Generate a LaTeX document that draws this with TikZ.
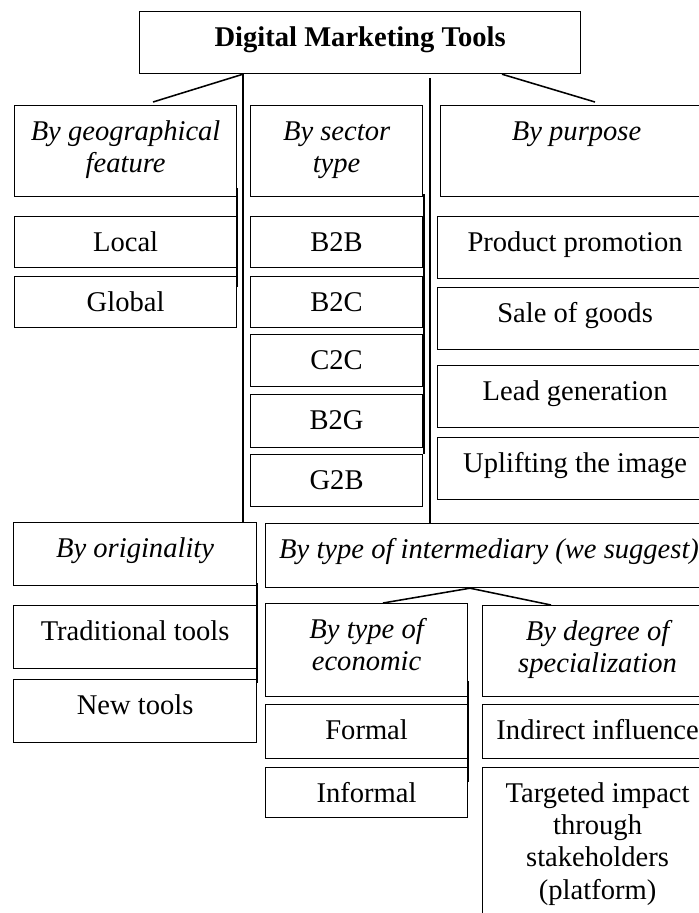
\documentclass[tikz,border=0pt]{standalone}
\usepackage{fontspec}
\setmainfont{Liberation Serif}
\usetikzlibrary{positioning}

\newdimen\pxu
\pxu=0.42pt
\newcommand{\stacked}[1]{\begin{tabular}[t]{@{}c@{}}#1\end{tabular}}

\tikzset{
    box/.style={draw, line width=0.5pt, anchor=north west, inner sep=0pt, text height=35\pxu, font=\fontsize{12}{13.5}\selectfont},
    group/.style={box, font=\fontsize{12}{13.5}\selectfont\itshape},
    link/.style={line width=0.65pt}
}

\begin{document}
\begin{tikzpicture}[x=0.42pt, y=-0.42pt]
        \clip (0,0) rectangle (699,913);

        \node [box, font=\fontsize{12}{13.5}\selectfont\bfseries, minimum width=441\pxu, text depth=27\pxu] (title) at (139,11) {Digital Marketing Tools};

        \node [group, minimum width=222\pxu, text depth=56\pxu] (geo) at (14,105) {\stacked{By geographical\\feature}};
        \node [group, minimum width=172\pxu, text depth=56\pxu] (sector) at (250,105) {\stacked{By sector\\type}};
        \node [group, minimum width=272\pxu, text depth=56\pxu] (purpose) at (440,105) {By purpose};

        \node [box, minimum width=222\pxu, text depth=16\pxu] (local) at (14,216) {Local};
        \node [box, minimum width=222\pxu, text depth=16\pxu] (global) at (14,276) {Global};

        \node [box, minimum width=172\pxu, text depth=16\pxu] (b2b) at (250,216) {B2B};
        \node [box, minimum width=172\pxu, text depth=16\pxu] (b2c) at (250,276) {B2C};
        \node [box, minimum width=172\pxu, text depth=17\pxu] (c2c) at (250,334) {C2C};
        \node [box, minimum width=172\pxu, text depth=18\pxu] (b2g) at (250,394) {B2G};
        \node [box, minimum width=172\pxu, text depth=17\pxu] (g2b) at (250,454) {G2B};

        \node [box, minimum width=275\pxu, text depth=27\pxu] (promo) at (437,216) {Product promotion};
        \node [box, minimum width=275\pxu, text depth=27\pxu] (sale) at (437,287) {Sale of goods};
        \node [box, minimum width=275\pxu, text depth=27\pxu] (lead) at (437,365) {Lead generation};
        \node [box, minimum width=275\pxu, text depth=27\pxu] (image) at (437,437) {Uplifting the image};

        \node [group, minimum width=243\pxu, text depth=28\pxu] (origin) at (13,522) {By originality};
        \node [group, minimum width=447\pxu, text depth=29\pxu] (inter) at (265,523) {By type of intermediary (we suggest)};

        \node [box, minimum width=243\pxu, text depth=28\pxu] (tradit) at (13,605) {Traditional tools};
        \node [box, minimum width=243\pxu, text depth=28\pxu] (newtools) at (13,679) {New tools};

        \node [group, minimum width=202\pxu, text depth=58\pxu] (econ) at (265,603) {\stacked{By type of\\economic}};
        \node [group, minimum width=230\pxu, text depth=56\pxu] (degree) at (482,605) {\stacked{By degree of\\specialization}};

        \node [box, minimum width=202\pxu, text depth=19\pxu] (formal) at (265,704) {Formal};
        \node [box, minimum width=202\pxu, text depth=15\pxu] (informal) at (265,767) {Informal};
        \node [box, minimum width=230\pxu, text depth=19\pxu] (indirect) at (482,704) {Indirect influence};
        \node [box, minimum width=230\pxu, text depth=165\pxu] (target) at (482,767) {\stacked{Targeted impact\\through\\stakeholders\\(platform)}};

        \draw [link] ([xshift=104\pxu]title.south west) -- ([xshift=139\pxu, yshift=3\pxu]geo.north west);
        \draw [link] ([xshift=104\pxu]title.south west) -- ([xshift=104\pxu]title.south west |- origin.north);
        \draw [link] ([xshift=363\pxu]title.south west) -- ([xshift=155\pxu, yshift=3\pxu]purpose.north west);
        \draw [link] ([xshift=291\pxu, yshift=-4\pxu]title.south west) -- ([xshift=291\pxu]title.south west |- inter.north);

        \draw [link] ([xshift=205\pxu]inter.south west) -- ([xshift=118\pxu]econ.north west);
        \draw [link] ([xshift=205\pxu]inter.south west) -- ([xshift=69\pxu]degree.north west);

        \draw [link] ([yshift=9\pxu]geo.south east) -- ([yshift=-11\pxu]global.north east);
        \draw [link] ([xshift=1\pxu, yshift=3\pxu]sector.south east) -- ([xshift=1\pxu]g2b.north east);
        \draw [link] ([yshift=3\pxu]origin.south east) -- ([yshift=-4\pxu]newtools.north east);
        \draw [link] ([yshift=16\pxu]econ.south east) -- ([yshift=-15\pxu]informal.north east);
\end{tikzpicture}
\end{document}
